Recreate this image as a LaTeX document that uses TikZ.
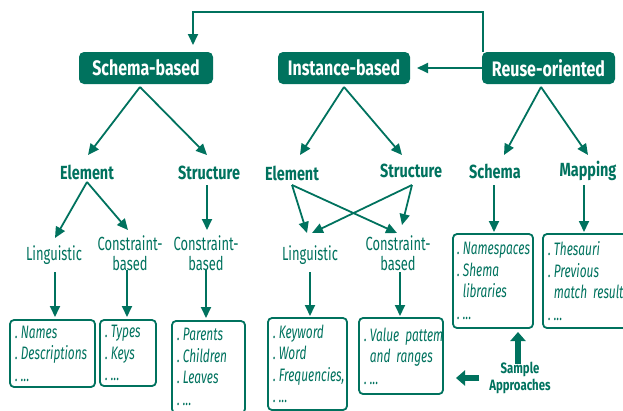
\documentclass[tikz,border=0pt]{standalone}
\usepackage{fontspec}
\setmainfont{Fira Sans}[FakeStretch=0.68]
\newfontfamily\headfont{Fira Sans}[FakeStretch=0.76]
\newfontfamily\listfont{Fira Sans}[FakeStretch=0.66]
\usetikzlibrary{arrows.meta,calc}
\definecolor{teal}{RGB}{0,114,94}
\begin{document}
\begin{tikzpicture}[x=1pt,y=-1pt,
  every node/.style={inner sep=0pt, outer sep=0pt, text=teal},
  topbox/.style={fill=teal, rounded corners=5pt, minimum height=32pt,
    text=white, font=\headfont\fontsize{21}{23}\selectfont\bfseries},
  head/.style={font=\headfont\fontsize{19}{21}\selectfont\bfseries},
  sub/.style={font=\fontsize{19}{20}\selectfont, align=center},
  item/.style={draw=teal, line width=1.8pt, rounded corners=4pt, align=left,
    inner xsep=5pt, font=\listfont\fontsize{18}{21.5}\selectfont\itshape},
  arr/.style={draw=teal, line width=1.8pt, -{Triangle[length=11pt,width=10pt]}},
  fat/.style={draw=teal, line width=6pt, -{Triangle[length=9pt,width=15pt]}}]
\useasboundingbox (0,0) rectangle (623,410);

% top level
\node[topbox, minimum width=134pt] (sb) at (146,68) {Schema-based};
\node[topbox, minimum width=132pt] (ib) at (344,68) {Instance-based};
\node[topbox, minimum width=133pt] (ro) at (548.5,68) {Reuse-oriented};

\draw[arr] ($(ro.north west)+(1,0)$) -- ++(0,-40) -| ($(sb.north)+(47,-7)$);
\draw[arr] (ro.west) -- ($(ib.east)+(7,0)$);

% second level
\node[head] (el1) at (87,172) {Element};
\node[head] (st1) at (209,173) {Structure};
\node[head] (el2) at (292,173) {Element};
\node[head] (st2) at (411,171) {Structure};
\node[head] (sc) at (495,171) {Schema};
\node[head] (mp) at (588,171) {Mapping};

\draw[arr] ($(sb.south)+(-6,3)$) -- ($(el1)+(1,-17)$);
\draw[arr] ($(sb.south)+(-6,3)$) -- ($(st1)+(-2,-18)$);
\draw[arr] ($(ib.south)+(0,3)$) -- ($(el2)+(8,-18)$);
\draw[arr] ($(ib.south)+(0,3)$) -- ($(st2)+(-9,-16)$);
\draw[arr] ($(ro.south)+(-7.5,3)$) -- ($(sc)+(9,-16)$);
\draw[arr] ($(ro.south)+(-7.5,3)$) -- ($(mp)+(0,-16)$);

% third level
\node[sub] (li1) at (54,255) {Linguistic};
\node[sub] (cb1) at (130,253) {Constraint-\\based};
\node[sub] (cb2) at (206,253) {Constraint-\\based};
\node[sub] (li2) at (310,255) {Linguistic};
\node[sub] (cb3) at (398,253) {Constraint-\\based};

\draw[arr] ($(el1)+(0,10)$) -- ($(li1)+(1,-17)$);
\draw[arr] ($(el1)+(0,10)$) -- ($(cb1)+(-2,-23)$);
\draw[arr] ($(st1)+(-2,12)$) -- ($(cb2)+(1,-23)$);
\draw[arr] ($(el2)+(0,12)$) -- ($(li2)+(-3,-22)$);
\draw[arr] ($(el2)+(0,12)$) -- ($(cb3)+(-1,-20)$);
\draw[arr] ($(st2)+(1,14)$) -- ($(cb3)+(4,-28)$);
\draw[arr] ($(st2)+(1,14)$) -- ($(li2)+(2,-22)$);

% sample boxes
\node[item, minimum width=85pt, minimum height=67pt, text width=75pt] (b1) at (52.5,353.5)
  {\mbox{.\,Names}\\\mbox{.\,Descriptions}\\.\,...};
\node[item, minimum width=56pt, minimum height=66pt, text width=46pt] (b2) at (128,353)
  {\mbox{.\,Types}\\\mbox{.\,Keys}\\.\,...};
\node[item, minimum width=73pt, minimum height=92pt, text width=63pt] (b3) at (208.5,367)
  {\mbox{.\,Parents}\\\mbox{.\,Children}\\\mbox{.\,Leaves}\\.\,...};
\node[item, minimum width=79pt, minimum height=92pt, text width=69pt] (b4) at (307.5,364)
  {\mbox{.\,Keyword}\\\mbox{.\,Word}\\\mbox{.\,Frequencies,}\\.\,...};
\node[item, minimum width=84pt, minimum height=76pt, text width=74pt] (b5) at (401,356)
  {\mbox{.\,Value pattem}\\\mbox{\hphantom{.\,}and ranges}\\.\,...};
\node[item, minimum width=80pt, minimum height=94pt, text width=72pt, inner xsep=4pt] (b6) at (493,281)
  {\mbox{.\,Namespaces}\\\mbox{.\,Shema}\\\mbox{\hphantom{.\,}libraries}\\.\,...};
\node[item, minimum width=87pt, minimum height=94pt, text width=77pt] (b7) at (586.5,281)
  {\mbox{.\,Thesauri}\\\mbox{.\,Previous}\\\mbox{\hphantom{.\,}match results}\\.\,...};

\draw[arr] ($(li1)+(1,17)$) -- ($(li1 |- b1.north)+(1,-3)$);
\draw[arr] ($(cb1)+(-3,17)$) -- ($(cb1 |- b2.north)+(-3,-3)$);
\draw[arr] ($(cb2)+(0,17)$) -- ($(cb2 |- b3.north)+(0,-3)$);
\draw[arr] ($(li2)+(0,17)$) -- ($(li2 |- b4.north)+(0,-2)$);
\draw[arr] ($(cb3)+(2,19)$) -- ($(cb3 |- b5.north)+(2,-2)$);
\draw[arr] ($(sc)+(-1,14)$) -- ($(sc |- b6.north)+(-1,-2)$);
\draw[arr] ($(mp)+(-4,14)$) -- ($(mp |- b7.north)+(-4,-2)$);

% legend
\node[head, font=\headfont\fontsize{15}{17}\selectfont\bfseries, align=center] (sa) at (520,378)
  {Sample\\Approaches};
\draw[fat] ($(sa.north)+(-2,2)$) -- ($(sa.north |- b6.south)+(-2,4)$);
\draw[fat] ($(sa.west)+(-10,0)$) -- ($(b5.east |- sa.west)+(13,0)$);
\end{tikzpicture}
\end{document}
